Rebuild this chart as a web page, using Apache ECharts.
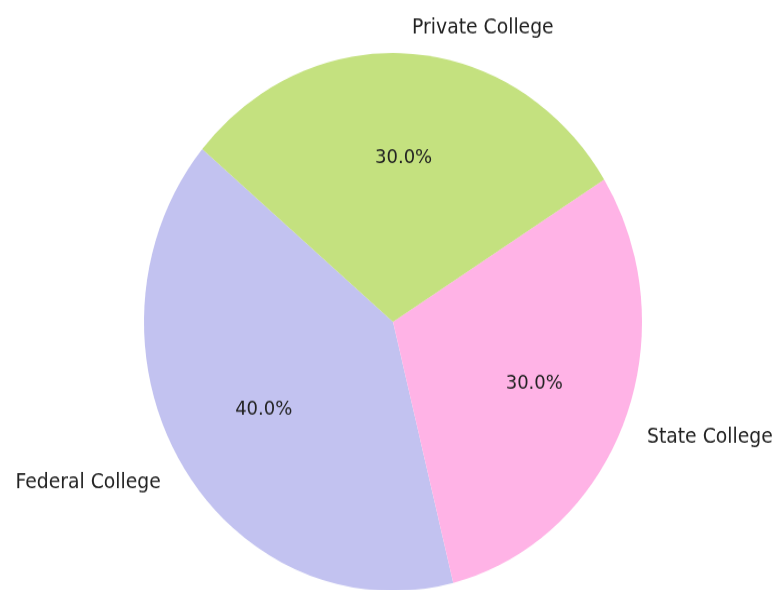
<!DOCTYPE html>
<html>
<head>
<meta charset="utf-8">
<style>
  html, body { margin: 0; padding: 0; background: #ffffff; overflow: hidden; width: 777px; height: 590px; }
  #chart { width: 777px; height: 590px; transform: scaleY(1.08); transform-origin: 0 0; }
</style>
<script src="https://cdn.jsdelivr.net/npm/echarts@6/dist/echarts.min.js"></script>
</head>
<body>
<div id="chart"></div>
<script>
// College types and their share
const categories = ['Federal College', 'State College', 'Private College'];
const shares = [40, 30, 30];
const colors = ['#c2c2f0', '#ffb3e6', '#c4e17f'];
// small vertical nudge for each name label
const nameOffsetY = [4, 4, 1];

const pieData = categories.map((name, i) => ({
  name: name,
  value: shares[i],
  itemStyle: { color: colors[i] },
  label: { offset: [0, nameOffsetY[i]] }
}));

const R = 249;
const center = [393, 298.1];
const font = 'DejaVu Sans';

const chart = echarts.init(document.getElementById('chart'), null, { renderer: 'canvas' });
chart.setOption({
  animation: false,
  backgroundColor: '#ffffff',
  series: [
    {
      // the visible slices, with category names just outside the rim
      type: 'pie',
      center: center,
      radius: [0, R],
      startAngle: 140,
      clockwise: false,
      avoidLabelOverlap: false,
      silent: true,
      itemStyle: { borderWidth: 0 },
      label: {
        show: true,
        position: 'outside',
        formatter: '{b}',
        fontFamily: font,
        fontSize: 18.8,
        color: '#222222',
        distanceToLabelLine: 0
      },
      labelLine: { show: false, length: R * 0.1, length2: 0 },
      emphasis: { disabled: true },
      data: pieData
    },
    {
      // unfilled copy that places the percentages at 0.6 of the radius
      type: 'pie',
      center: center,
      radius: [0, R * 1.2],
      startAngle: 140,
      clockwise: false,
      avoidLabelOverlap: false,
      silent: true,
      z: 3,
      itemStyle: { color: 'rgba(0,0,0,0)', borderWidth: 0 },
      label: {
        show: true,
        position: 'inside',
        formatter: p => p.percent.toFixed(1) + '%',
        fontFamily: font,
        fontSize: 18,
        color: '#222222'
      },
      labelLine: { show: false },
      emphasis: { disabled: true },
      data: categories.map((name, i) => ({ name: name, value: shares[i] }))
    }
  ]
});
</script>
</body>
</html>
